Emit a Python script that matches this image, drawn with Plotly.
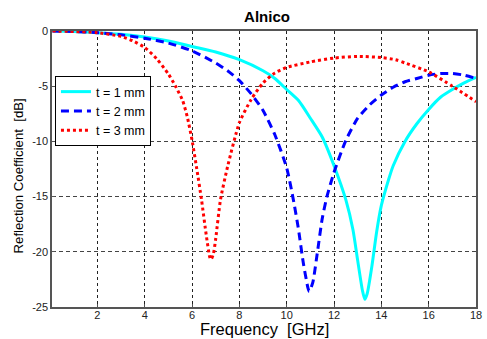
import plotly.graph_objects as go

# ---- data ----
freq_t1 = [0.1, 1, 2, 3, 4, 5, 6, 7, 8, 9, 9.5, 10, 10.5, 11, 11.5, 12, 12.5, 12.8, 13.0, 13.2, 13.3,
           13.4, 13.6, 13.8, 14.0, 14.3, 14.5, 15.0, 15.5, 16, 16.5, 17, 17.5, 18]
rc_t1 = [0, -0.05, -0.15, -0.3, -0.55, -0.9, -1.4, -1.9, -2.6, -3.6, -4.3, -5.3, -6.3, -7.9, -9.6, -12.2,
         -15.3, -18.0, -20.8, -23.5, -24.3, -23.8, -21.3, -18.2, -15.8, -13.5, -12.2, -10.0, -8.4, -7.1,
         -6.0, -5.3, -4.7, -4.2]

freq_t2 = [0.1, 1, 2, 3, 4, 5, 6, 7, 7.5, 8, 8.5, 9, 9.5, 10, 10.3, 10.5, 10.7, 10.9, 10.95, 11.1, 11.3,
           11.5, 11.7, 12, 12.5, 13, 13.5, 14, 14.5, 15, 15.5, 16, 16.5, 17, 17.5, 18]
rc_t2 = [0, -0.05, -0.15, -0.35, -0.65, -1.1, -1.8, -2.9, -3.6, -4.5, -5.7, -7.2, -9.4, -12.4, -15.5, -18.0,
         -21.0, -23.3, -23.6, -22.8, -20.0, -17.0, -15.0, -12.8, -9.9, -7.9, -6.7, -5.8, -5.1, -4.6, -4.3,
         -4.0, -3.85, -3.85, -4.0, -4.3]

freq_t3 = [0.1, 1, 2, 3, 3.5, 4, 4.5, 5, 5.3, 5.6, 5.8, 6.0, 6.2, 6.4, 6.6, 6.75, 6.8, 6.9, 7.0, 7.2, 7.5,
           8.0, 8.5, 9.0, 9.5, 10, 11, 12, 13, 14, 14.6, 15, 16, 17, 18]
rc_t3 = [0, -0.05, -0.15, -0.5, -0.9, -1.5, -2.5, -3.9, -5.0, -6.3, -7.8, -9.9, -12.5, -15.3, -18.5, -20.5,
         -20.7, -20.2, -18.8, -15.3, -12.3, -8.3, -6.2, -4.7, -3.8, -3.3, -2.8, -2.45, -2.3, -2.4, -2.6,
         -2.9, -3.7, -5.0, -6.4]

names = ["t = 1 mm", "t = 2 mm", "t = 3 mm"]
x_ticks = [2, 4, 6, 8, 10, 12, 14, 16, 18]
y_ticks = [0, -5, -10, -15, -20, -25]

fig = go.Figure()
fig.add_trace(go.Scatter(x=freq_t1, y=rc_t1, mode="lines", name=names[0],
                         line=dict(color="#00FFFF", width=3, shape="spline", smoothing=0.6)))
fig.add_trace(go.Scatter(x=freq_t2, y=rc_t2, mode="lines", name=names[1],
                         line=dict(color="#0000FF", width=3, dash="8px,5px", shape="spline", smoothing=0.6)))
fig.add_trace(go.Scatter(x=freq_t3, y=rc_t3, mode="lines", name=names[2],
                         line=dict(color="#FF0000", width=3, dash="3px,3px", shape="spline", smoothing=0.6)))

font = "Liberation Sans, Arial, sans-serif"
fig.update_layout(
    width=487, height=339,
    margin=dict(l=52, r=5, t=31, b=32),
    paper_bgcolor="white", plot_bgcolor="white",
    font=dict(family=font, size=11, color="#222"),
    title=dict(text="<b>Alnico</b>", x=(52 + 215) / 487, xanchor="center", y=1 - 17 / 339, yanchor="middle",
               font=dict(size=15, color="black")),
    showlegend=True,
    legend=dict(x=3 / 430, y=(307 - 76) / 276, xanchor="left", yanchor="top",
                bgcolor="white", bordercolor="black", borderwidth=1,
                font=dict(size=12.5, color="black"), tracegroupgap=0, itemwidth=30),
    xaxis=dict(range=[0.08, 18], tickvals=x_ticks, ticktext=[str(v) for v in x_ticks],
               showgrid=True, gridcolor="#222", griddash="dot", gridwidth=1,
               showline=True, linecolor="#555", linewidth=1.5, mirror=True,
               ticks="inside", ticklen=3, tickcolor="#555", zeroline=False,
               ticklabelstandoff=-3,
               tickfont=dict(size=11, color="#222")),
    yaxis=dict(range=[-25, 0], tickvals=y_ticks, ticktext=[str(v) for v in y_ticks],
               showgrid=True, gridcolor="#444", griddash="4px,3px", gridwidth=1,
               showline=True, linecolor="#555", linewidth=1.5, mirror=True,
               ticks="inside", ticklen=3, tickcolor="#555", zeroline=False,
               tickfont=dict(size=11, color="#222")),
    annotations=[
        dict(text="Frequency\u00a0 [GHz]", xref="paper", yref="paper", x=0.5, y=-(329 - 307) / 276,
             xanchor="center", yanchor="middle", showarrow=False, font=dict(size=16.5, color="black")),
        dict(text="Reflection Coefficient\u00a0 [dB]", xref="paper", yref="paper",
             x=-(52 - 18) / 430, y=(307 - 176) / 276, textangle=-90,
             xanchor="center", yanchor="middle", showarrow=False, font=dict(size=13.2, color="black")),
    ],
)

fig.write_html("out.html", config={"displayModeBar": False},
               post_script="document.body.style.margin='0px';")
